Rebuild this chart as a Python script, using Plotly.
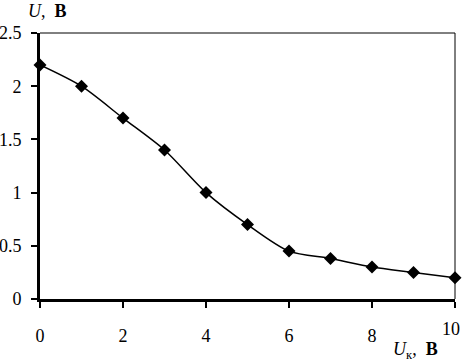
import plotly.graph_objects as go

x_vals = [0, 1, 2, 3, 4, 5, 6, 7, 8, 9, 10]
u_vals = [2.2, 2.0, 1.7, 1.4, 1.0, 0.7, 0.45, 0.38, 0.3, 0.25, 0.2]
x_ticks = [0, 2, 4, 6, 8, 10]
x_tick_text = ["0", "2", "4", "6", "8", "10"]
y_ticks = [0, 0.5, 1, 1.5, 2, 2.5]
y_tick_text = ["0", "0.5", "1", "1.5", "2", "2.5"]

font = dict(family="Liberation Serif, Times New Roman, serif", size=18, color="black")

fig = go.Figure()
fig.add_trace(go.Scatter(
    x=x_vals, y=u_vals, mode="lines+markers",
    line=dict(color="black", width=1.5, shape="spline", smoothing=0.8),
    marker=dict(symbol="diamond", size=10, color="black"),
    cliponaxis=False, showlegend=False,
))

# last x tick label is drawn right-aligned so it stays inside the page
shown_x_text = x_tick_text[:-1] + [""]

fig.update_layout(
    width=462, height=363,
    margin=dict(l=40, r=7, t=33, b=64, autoexpand=False),
    paper_bgcolor="white", plot_bgcolor="white",
    font=font,
    xaxis=dict(range=[0, 10], tickvals=x_ticks, ticktext=shown_x_text,
               ticks="outside", ticklen=6,
               tickwidth=2, tickcolor="black", showgrid=False, zeroline=False,
               showline=True, linecolor="black", linewidth=3, mirror=False,
               tickfont=font, ticklabeloverflow="allow", ticklabelstandoff=12,
               automargin=False),
    yaxis=dict(range=[0, 2.5], tickvals=y_ticks, ticktext=y_tick_text,
               ticks="outside", ticklen=6, tickwidth=2, tickcolor="black",
               showgrid=False, zeroline=False, showline=True, linecolor="black",
               linewidth=3, tickfont=font, ticklabelstandoff=6,
               automargin=False),
    shapes=[
        dict(type="line", xref="paper", yref="paper", x0=0, x1=1, y0=1, y1=1,
             line=dict(color="black", width=1)),
        dict(type="line", xref="paper", yref="paper", x0=1, x1=1, y0=0, y1=1,
             line=dict(color="black", width=1)),
    ],
    annotations=[
        dict(xref="x", yref="paper", x=x_ticks[-1], y=0, xshift=7, yshift=-18,
             xanchor="right", yanchor="top", showarrow=False,
             text=x_tick_text[-1], font=font),
        dict(xref="paper", yref="paper", x=-0.033, y=1.0, yshift=10,
             xanchor="left", yanchor="bottom", showarrow=False,
             text="<i>U</i>,  <b>В</b>", font=font),
        dict(xref="paper", yref="paper", x=0.965, y=0, yshift=-38,
             xanchor="right", yanchor="top", showarrow=False,
             text="<i>U</i><sub>к</sub>,  <b>В</b>", font=font),
    ],
)

fig.write_html("out.html", config={"displayModeBar": False},
               post_script="document.body.style.margin='0';document.body.style.overflow='hidden';")
